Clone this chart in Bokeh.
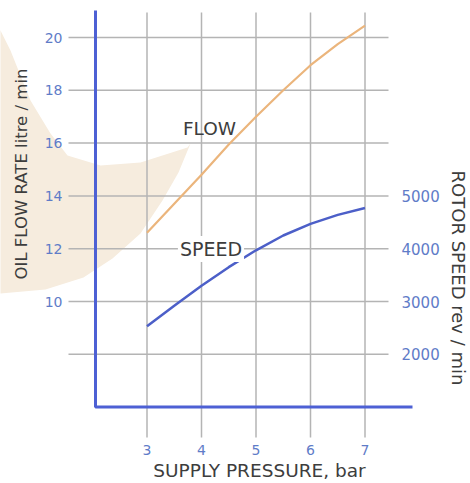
import math
from bokeh.plotting import figure
from bokeh.models import Range1d, LinearAxis, FixedTicker, Label, PolyAnnotation
from bokeh.embed import file_html
from bokeh.resources import INLINE

# ---- data ----
pressure = [3, 3.5, 4, 4.5, 5, 5.5, 6, 6.5, 7]
flow_rate = [12.6, 13.7, 14.8, 15.95, 17.0, 18.0, 18.95, 19.75, 20.45]
rotor_speed = [2530, 2920, 3300, 3650, 3970, 4250, 4470, 4640, 4770]

pressure_ticks = [3, 4, 5, 6, 7]
flow_ticks = [10, 12, 14, 16, 18, 20]
flow_grid = [8, 10, 12, 14, 16, 18, 20]
speed_ticks = [2000, 3000, 4000, 5000]


# ---- layout helpers: page pixel -> data ----
def dx(px):
    return 3 + (px - 146.5) / 54.5


def dy(py):
    return 20 - (py - 37) / 26.4


def speed_of(level):
    return (level - 4.0) * 500.0


W, H = 470, 483
X_START, X_END = dx(0), dx(W)
Y_START, Y_END = dy(H), dy(0)
GRID_LEFT, GRID_RIGHT = dx(68), dx(388)
GRID_TOP, GRID_BOTTOM = dy(12), dy(437)
AXIS_X, AXIS_Y = dx(95), 6.0
AXIS_TOP, AXIS_RIGHT = dy(10), dx(412)

TITLE = "#3d3d3d"
TICK = "#5f7cc8"
FONT = "DejaVu Sans"
GRID = "#b4b4b4"

p = figure(width=W, height=H, output_backend="svg", toolbar_location=None,
           x_range=Range1d(X_START, X_END), y_range=Range1d(Y_START, Y_END),
           x_axis_location=None, y_axis_location=None,
           min_border=0, outline_line_color=None,
           background_fill_color="white", border_fill_color="white")
p.grid.visible = False

p.extra_y_ranges = {"speed": Range1d(speed_of(Y_START), speed_of(Y_END))}

# decorative crescent watermark
crescent_px = [(190, 143), (178, 172), (162, 200), (140, 233), (112, 258), (83, 277),
               (45, 289), (0, 293), (-20, 293), (-20, 25), (0, 30), (10, 50), (30, 100),
               (50, 133), (67, 155), (100, 165), (140, 162), (187, 147)]
poly = PolyAnnotation(xs=[dx(a) for a, b in crescent_px], ys=[dy(b) for a, b in crescent_px],
                      fill_color="#f6ecde", fill_alpha=1.0, line_color=None, level="image")
p.add_layout(poly)

# grid lines
n = len(flow_grid)
p.segment(x0=[GRID_LEFT] * n, y0=flow_grid, x1=[GRID_RIGHT] * n, y1=flow_grid,
          line_color=GRID, line_width=1.5)
m = len(pressure_ticks)
p.segment(x0=pressure_ticks, y0=[GRID_BOTTOM] * m, x1=pressure_ticks, y1=[GRID_TOP] * m,
          line_color=GRID, line_width=1.5)


def style_axis(ax, size="14px"):
    ax.axis_line_color = None
    ax.major_tick_line_color = None
    ax.minor_tick_line_color = None
    ax.major_label_text_font = FONT
    ax.major_label_text_font_size = size
    ax.major_label_text_color = TICK


lax = LinearAxis(ticker=FixedTicker(ticks=flow_ticks), fixed_location=dx(68))
style_axis(lax)
lax.major_label_standoff = 0
p.add_layout(lax, "left")

bax = LinearAxis(ticker=FixedTicker(ticks=pressure_ticks), fixed_location=dy(438))
style_axis(bax)
bax.major_label_standoff = 0
p.add_layout(bax, "below")

rax = LinearAxis(y_range_name="speed", ticker=FixedTicker(ticks=speed_ticks),
                 fixed_location=dx(393))
style_axis(rax, "15px")
rax.major_label_standoff = 2
p.add_layout(rax, "right")

# curves
p.line(pressure, flow_rate, line_color="#ebb57c", line_width=2.2)
p.line(pressure, rotor_speed, y_range_name="speed", line_color="#4c5fc8", line_width=2.5)

# blue L axis lines
p.line([AXIS_X, AXIS_X, AXIS_RIGHT], [AXIS_TOP, AXIS_Y, AXIS_Y], line_color="#4d60d4", line_width=3)

# labels
p.add_layout(Label(x=dx(209), y=dy(127.5), text="FLOW", text_font=FONT, text_font_size="18.5px",
                   text_color=TITLE, text_align="center", text_baseline="middle"))
p.add_layout(Label(x=dx(210.5), y=dy(248.5), text="SPEED", text_font=FONT, text_font_size="19px",
                   text_color=TITLE, text_align="center", text_baseline="middle",
                   background_fill_color="white", padding=2))

p.add_layout(Label(x=dx(21), y=dy(173.5), text="OIL FLOW RATE litre / min", angle=math.pi / 2,
                   text_font=FONT, text_font_size="16.5px", text_color=TITLE,
                   text_align="center", text_baseline="middle"))
p.add_layout(Label(x=dx(458), y=dy(277.5), text="ROTOR SPEED rev / min", angle=-math.pi / 2,
                   text_font=FONT, text_font_size="18px", text_color=TITLE,
                   text_align="center", text_baseline="middle"))
p.add_layout(Label(x=dx(259), y=dy(470), text="SUPPLY PRESSURE, bar",
                   text_font=FONT, text_font_size="18.5px", text_color=TITLE,
                   text_align="center", text_baseline="middle"))

open("out.html", "w").write(file_html(p, INLINE))
